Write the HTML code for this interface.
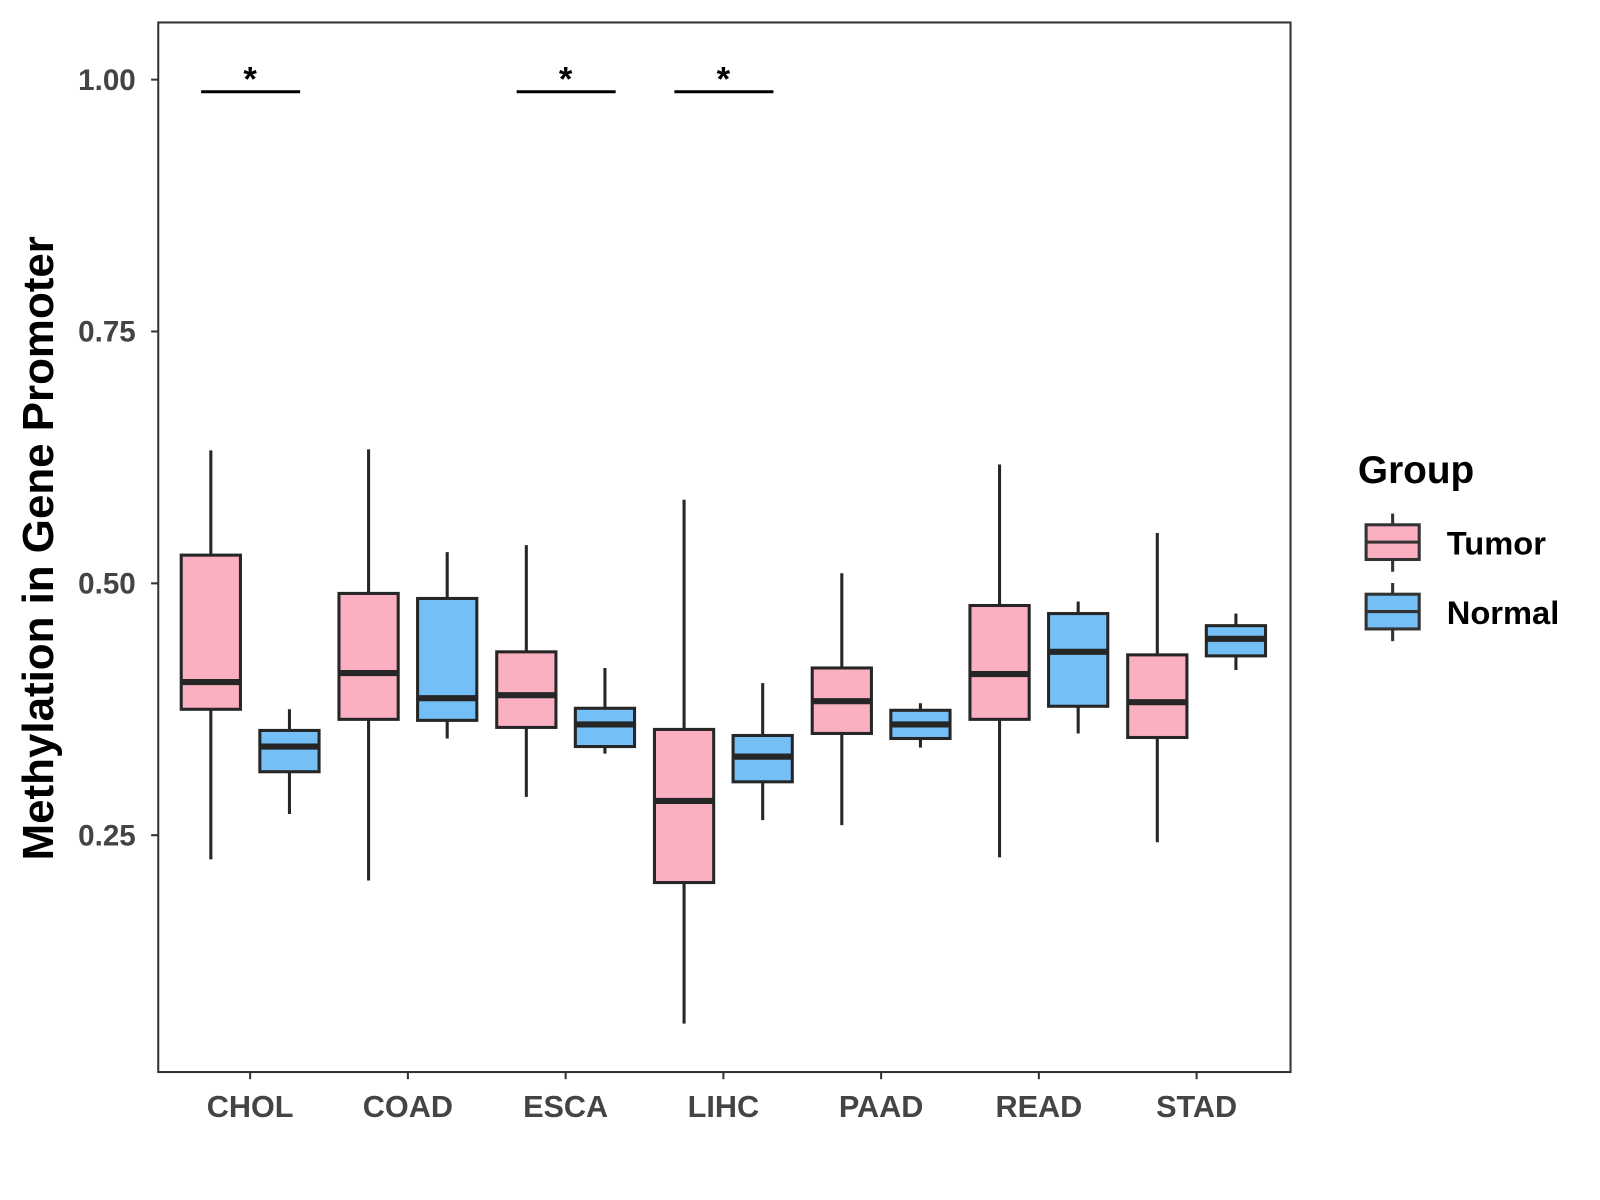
<!DOCTYPE html>
<html><head><meta charset="utf-8"><style>
html,body{margin:0;padding:0;background:#fff;}
svg{display:block;font-family:"Liberation Sans",Arial,sans-serif;}
</style></head><body>
<svg width="1600" height="1200" xmlns="http://www.w3.org/2000/svg">
<g id="chart" transform="scale(1.021)">
<rect x="155" y="22" width="1109" height="1028" fill="#fff" stroke="#333" stroke-width="2"/>
<g id="marks"></g>
<text transform="translate(52,537) rotate(-90)" text-anchor="middle" font-size="43" font-weight="bold" fill="#000">Methylation in Gene Promoter</text>
<g>
<text x="1330" y="473" font-size="38" font-weight="bold" fill="#000">Group</text>
<g>
<line x1="1364" y1="503" x2="1364" y2="560" stroke="#333" stroke-width="3"/>
<rect x="1338" y="514" width="52" height="34" fill="#FBB0C2" stroke="#333" stroke-width="3"/>
<line x1="1338" y1="531" x2="1390" y2="531" stroke="#333" stroke-width="3"/>
<text x="1417" y="543" font-size="32" font-weight="bold" fill="#000">Tumor</text></g>
<g>
<line x1="1364" y1="571" x2="1364" y2="628" stroke="#333" stroke-width="3"/>
<rect x="1338" y="582" width="52" height="34" fill="#74BFF6" stroke="#333" stroke-width="3"/>
<line x1="1338" y1="599" x2="1390" y2="599" stroke="#333" stroke-width="3"/>
<text x="1417" y="611" font-size="32" font-weight="bold" fill="#000">Normal</text></g>
</g>
</g>
</svg>
<script>
const categories=["CHOL","COAD","ESCA","LIHC","PAAD","READ","STAD"];
const tumorStats=[[0.226,0.375,0.402,0.528,0.632],[0.205,0.365,0.411,0.490,0.633],[0.288,0.357,0.389,0.432,0.538],[0.063,0.203,0.284,0.355,0.583],[0.260,0.351,0.383,0.416,0.510],[0.228,0.365,0.410,0.478,0.618],[0.243,0.347,0.382,0.429,0.550]];
const normalStats=[[0.271,0.313,0.338,0.354,0.375],[0.346,0.364,0.386,0.485,0.531],[0.331,0.338,0.360,0.376,0.416],[0.265,0.303,0.328,0.349,0.401],[0.337,0.346,0.360,0.374,0.381],[0.351,0.378,0.432,0.470,0.482],[0.414,0.428,0.445,0.458,0.470]];
const yTicks=[0.25,0.50,0.75,1.00];
const yTickLabels=["0.25","0.50","0.75","1.00"];
const sigCategories=["CHOL","ESCA","LIHC"];
const sigLevel=0.988;
const NS="http://www.w3.org/2000/svg";
const g=document.getElementById('marks');
function yS(v){return 78+(1-v)*986.7;}
function xS(i){return 245+i*154.5;}
function mk(t,a,p){const e=document.createElementNS(NS,t);for(const k in a)e.setAttribute(k,a[k]);(p||g).appendChild(e);return e;}
yTicks.forEach((v,i)=>{
  const t=mk('line',{x1:148,x2:155,y1:yS(v),y2:yS(v),stroke:'#333','stroke-width':2});
  
  
  const l=mk('text',{x:133,y:yS(v)+10,'text-anchor':'end','font-size':29,'font-weight':'bold',fill:'#444'});
  l.textContent=yTickLabels[i];
  
  
});
categories.forEach((c,i)=>{
  const t=mk('line',{x1:xS(i),x2:xS(i),y1:1050,y2:1057,stroke:'#333','stroke-width':2});
  
  
  const l=mk('text',{x:xS(i),y:1094,'text-anchor':'middle','font-size':30,'font-weight':'bold',fill:'#444'});
  l.textContent=c;
  
  
});
function box(s,cx,fill,name){
  const bg=mk('g',{});
  
  
  mk('line',{x1:cx,x2:cx,y1:yS(s[4]),y2:yS(s[0]),stroke:'#262626','stroke-width':3},bg);
  mk('rect',{x:cx-29,y:yS(s[3]),width:58,height:yS(s[1])-yS(s[3]),fill:fill,stroke:'#262626','stroke-width':3},bg);
  mk('line',{x1:cx-29,x2:cx+29,y1:yS(s[2]),y2:yS(s[2]),stroke:'#262626','stroke-width':6},bg);
}
categories.forEach((c,i)=>{
  box(tumorStats[i],xS(i)-38.5,'#FBB0C2','box-tumor-'+c.toLowerCase());
  box(normalStats[i],xS(i)+38.5,'#74BFF6','box-normal-'+c.toLowerCase());
});
sigCategories.forEach(c=>{
  const i=categories.indexOf(c);
  const l=mk('line',{x1:xS(i)-48,x2:xS(i)+49,y1:yS(sigLevel),y2:yS(sigLevel),stroke:'#000','stroke-width':3});
  
  
  const t=mk('text',{x:xS(i),y:yS(sigLevel)-1,'text-anchor':'middle','font-size':34,'font-weight':'bold',fill:'#000'});
  t.textContent='*';
  
  
});
</script>
</body></html>
